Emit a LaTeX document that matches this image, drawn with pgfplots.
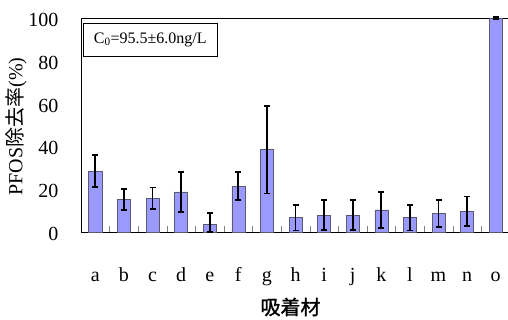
\documentclass[border=0pt]{standalone}
\usepackage{pgfplots}
\pgfplotsset{compat=1.18}
\usepackage{fontspec}
\setmainfont{Liberation Serif}
\newfontfamily\cjk{Noto Sans CJK JP}
\newfontfamily\cjkb[FakeBold=1.2]{Noto Sans CJK JP}
\definecolor{barblue}{RGB}{153,153,255}
\definecolor{baredge}{RGB}{90,90,110}
\begin{document}
\begin{tikzpicture}
\useasboundingbox (-81pt,-88pt) rectangle (427pt,232pt);
\begin{axis}[
 scale only axis, width=429pt, height=214pt,
 xmin=-0.5, xmax=14.5, ymin=0, ymax=100,
 axis line style={line width=0.8pt},
 ytick={0,20,...,100},
 ytick style={draw=none},
 xtick={0,...,14},
 xticklabels={a,b,c,d,e,f,g,h,i,j,k,l,m,n,o},
 major x tick style={draw=none},
 minor xtick={0.5,1.5,...,13.5},
 minor x tick style={gray, line width=0.6pt},
 minor tick length=6pt,
 tick align=inside,
 xtick pos=bottom, ytick pos=left,
 tick label style={font=\fontsize{20}{24}\selectfont},
 /pgf/number format/assume math mode=true,
 yticklabel style={xshift=-19pt, yshift=-2pt},
 xticklabel style={anchor=base, yshift=-49.7pt},
 clip=false,
]
\addplot[ybar, bar width=13pt, fill=barblue, draw=baredge, line width=0.6pt,
 error bars/.cd, y dir=both, y explicit,
 error bar style={line width=1.9pt, black},
 error mark options={rotate=90, line width=1.9pt, mark size=3pt, black}]
 coordinates {
 (0,28.5) +- (0,7.5)
 (1,15.3) +- (0,5)
 (2,15.8) +- (0,5)
 (3,18.7) +- (0,9.5)
 (4,3.6) += (0,5.4) -= (0,3.6)
 (5,21.4) +- (0,6.5)
 (6,38.5) +- (0,20.5)
 (7,6.7) +- (0,6)
 (8,7.9) +- (0,7)
 (9,7.9) +- (0,7)
 (10,10.3) +- (0,8.5)
 (11,6.7) +- (0,6)
 (12,8.7) +- (0,6.3)
 (13,9.6) +- (0,7)
 (14,100) +- (0,0.3)
 };
\node[draw, line width=0.6pt, minimum width=134pt, minimum height=33pt, anchor=north west,
 font=\fontsize{16}{19}\selectfont, inner sep=0pt]
 at ([xshift=2pt,yshift=-5pt]rel axis cs:0,1) {C\textsubscript{0}=95.5±6.0ng/L};
\node[rotate=90, font=\fontsize{20}{24}\selectfont]
 at ([xshift=-65pt,yshift=-1.5pt]rel axis cs:0,0.5) {PFOS{\cjk 除去率}(\%)};
\node[font={\cjkb\fontsize{20}{24}\selectfont}]
 at ([yshift=-75pt,xshift=-5pt]rel axis cs:0.5,0) {吸着材};
\end{axis}
\end{tikzpicture}
\end{document}
